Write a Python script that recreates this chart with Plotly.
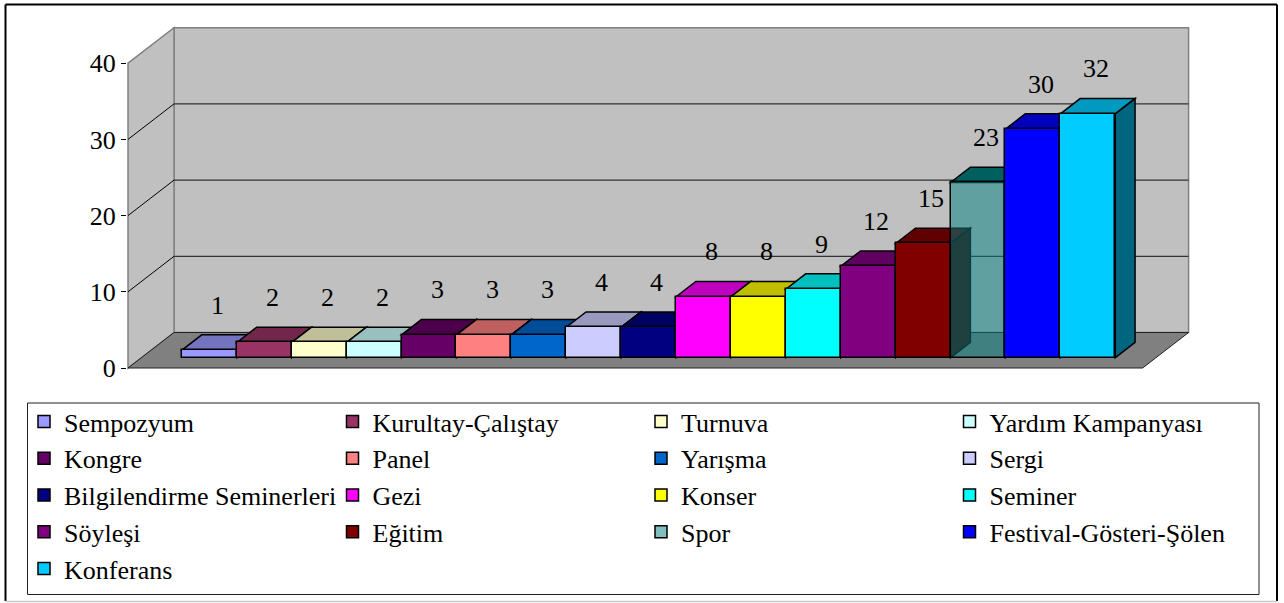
import plotly.graph_objects as go

# ---------------- data ----------------
categories = ["Sempozyum", "Kurultay-Çalıştay", "Turnuva", "Yardım Kampanyası",
              "Kongre", "Panel", "Yarışma", "Sergi",
              "Bilgilendirme Seminerleri", "Gezi", "Konser", "Seminer",
              "Söyleşi", "Eğitim", "Spor", "Festival-Gösteri-Şölen",
              "Konferans"]
values = [1, 2, 2, 2, 3, 3, 3, 4, 4, 8, 8, 9, 12, 15, 23, 30, 32]
y_ticks = [0, 10, 20, 30, 40]

# ---------------- style ----------------
colors = ["#9999FF", "#993366", "#FFFFCC", "#CCFFFF", "#660066", "#FF8080",
          "#0066CC", "#CCCCFF", "#000080", "#FF00FF", "#FFFF00", "#00FFFF",
          "#800080", "#800000", "#008080", "#0000FF", "#00CCFF"]
transparent = {"Spor"}
FONT = "Liberation Serif, Times New Roman, serif"

# ---------------- geometry (pixels) ----------------
W, H = 1284, 603
PL, PR, PT, PB = 127, 1278, 10, 390      # plot area
X0_PX, SLOT_PX = 196.1, 54.9             # slot 0 centre (front plane), slot width
Y0_PX, UNIT_PX = 368, 7.62               # value 0 on front plane, px per unit
DEPTH_DX_PX, DEPTH_DY_PX = 46, 35.5      # full depth of the floor
D_FRONT, D_BACK = 0.29, 0.72             # bar depth (fraction of floor depth)
FLOOR_PAD = 0.74                         # slots between outer bars and floor edge
LABEL_DX, LABEL_DY = 0.15, 5.9           # label offset (slots, value units)

x_range = [(PL - X0_PX) / SLOT_PX, (PR - X0_PX) / SLOT_PX]
y_range = [(Y0_PX - PB) / UNIT_PX, (Y0_PX - PT) / UNIT_PX]
DXu = DEPTH_DX_PX / SLOT_PX
DYu = DEPTH_DY_PX / UNIT_PX
n = len(values)
ymax = max(y_ticks)
fx0 = -0.5 - FLOOR_PAD
fx1 = n - 0.5 + FLOOR_PAD
ox0, oy0 = D_FRONT * DXu, D_FRONT * DYu
ddx, ddy = (D_BACK - D_FRONT) * DXu, (D_BACK - D_FRONT) * DYu


def px_x(p):
    return (p - PL) / (PR - PL)


def px_y(p):
    return (PB - p) / (PB - PT)


def path(pts):
    return "M " + " L ".join(f"{x},{y}" for x, y in pts) + " Z"


def shade(hexc, f):
    h = hexc.lstrip("#")
    r, g, b = (int(h[k:k + 2], 16) for k in (0, 2, 4))
    return f"rgb({round(r * f)},{round(g * f)},{round(b * f)})"


def rgba(hexc, a):
    h = hexc.lstrip("#")
    r, g, b = (int(h[k:k + 2], 16) for k in (0, 2, 4))
    return f"rgba({r},{g},{b},{a})"


shapes = []
# back wall
shapes.append(dict(type="path", xref="x", yref="y", layer="below",
                   path=path([(fx0 + DXu, DYu), (fx1 + DXu, DYu),
                              (fx1 + DXu, ymax + DYu), (fx0 + DXu, ymax + DYu)]),
                   fillcolor="#C0C0C0", line=dict(color="#808080", width=1.5)))
# left wall
shapes.append(dict(type="path", xref="x", yref="y", layer="below",
                   path=path([(fx0, 0), (fx0, ymax), (fx0 + DXu, ymax + DYu),
                              (fx0 + DXu, DYu)]),
                   fillcolor="#C0C0C0", line=dict(color="#808080", width=1.5)))
# gridlines
for t in y_ticks[1:-1]:
    shapes.append(dict(type="line", xref="x", yref="y", layer="below",
                       x0=fx0, y0=t, x1=fx0 + DXu, y1=t + DYu,
                       line=dict(color="#000000", width=1)))
    shapes.append(dict(type="line", xref="x", yref="y", layer="below",
                       x0=fx0 + DXu, y0=t + DYu, x1=fx1 + DXu, y1=t + DYu,
                       line=dict(color="#333333", width=1.2)))
# floor
shapes.append(dict(type="path", xref="x", yref="y", layer="below",
                   path=path([(fx0, 0), (fx1, 0), (fx1 + DXu, DYu), (fx0 + DXu, DYu)]),
                   fillcolor="#808080", line=dict(color="#202020", width=1)))

fig = go.Figure()
annotations = []
for i, (cat, v, c) in enumerate(zip(categories, values, colors)):
    xl, xr = i - 0.5 + ox0, i + 0.5 + ox0
    top = v + oy0
    # top face
    shapes.append(dict(type="path", xref="x", yref="y", layer="below",
                       path=path([(xl, top), (xr, top), (xr + ddx, top + ddy),
                                  (xl + ddx, top + ddy)]),
                       fillcolor=shade(c, 0.75), line=dict(color="#000000", width=1.5)))
    # side face
    shapes.append(dict(type="path", xref="x", yref="y", layer="below",
                       path=path([(xr, oy0), (xr, top), (xr + ddx, top + ddy),
                                  (xr + ddx, oy0 + ddy)]),
                       fillcolor=shade(c, 0.5), line=dict(color="#000000", width=1.5)))
    face = rgba(c, 0.5) if cat in transparent else c
    fig.add_trace(go.Bar(
        x=[i + ox0], y=[v], base=oy0, width=1, name=cat,
        marker=dict(color=face, line=dict(color="#000000", width=1.5)),
        showlegend=True, hoverinfo="name+y"))
    annotations.append(dict(x=i + ox0 + LABEL_DX, y=top + LABEL_DY, xref="x", yref="y",
                            text=str(v), showarrow=False, yanchor="middle",
                            font=dict(family=FONT, size=26, color="#000000")))

# legend box and outer frame (paper coordinates)
shapes.append(dict(type="rect", xref="paper", yref="paper",
                   x0=px_x(27.5), x1=px_x(1259), y0=px_y(594.5), y1=px_y(403),
                   line=dict(color="#222222", width=1), fillcolor="rgba(0,0,0,0)"))
for (a, b, cc, ww) in [((5.5, 4.5), (5.5, 601), "#000000", 2),
                       ((5.5, 4.5), (1277, 4.5), "#000000", 2),
                       ((1277, 4.5), (1277, 601), "#000000", 2),
                       ((5.5, 601.5), (1277, 601.5), "#C8C8C8", 1.5)]:
    shapes.append(dict(type="line", xref="paper", yref="paper",
                       x0=px_x(a[0]), y0=px_y(a[1]), x1=px_x(b[0]), y1=px_y(b[1]),
                       line=dict(color=cc, width=ww)))

fig.update_layout(
    width=W, height=H, autosize=False,
    margin=dict(l=PL, r=W - PR, t=PT, b=H - PB, pad=0, autoexpand=False),
    paper_bgcolor="#FFFFFF", plot_bgcolor="rgba(0,0,0,0)",
    barmode="overlay", bargap=0,
    shapes=shapes, annotations=annotations,
    font=dict(family=FONT, size=26, color="#000000"),
    xaxis=dict(range=x_range, visible=False, fixedrange=True),
    yaxis=dict(range=y_range, tickvals=y_ticks, ticktext=[str(t) for t in y_ticks],
               ticks="outside", ticklen=5, tickwidth=1, tickcolor="#000000",
               showgrid=False, zeroline=False, showline=False, fixedrange=True,
               tickfont=dict(family=FONT, size=26, color="#000000")),
    legend=dict(orientation="h", x=px_x(24), y=px_y(398), xanchor="left", yanchor="top",
                entrywidth=263.5, entrywidthmode="pixels",
                bgcolor="rgba(0,0,0,0)", borderwidth=0,
                font=dict(family=FONT, size=26, color="#000000")),
    showlegend=True,
)

fig.write_html("out.html", config={"displayModeBar": False},
               post_script="document.body.style.margin='0';"
                           "document.body.style.overflow='hidden';")
